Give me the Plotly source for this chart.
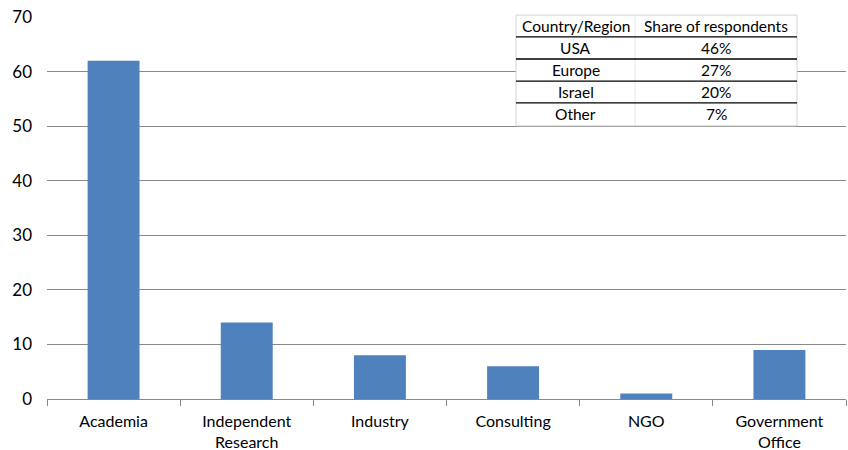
import plotly.graph_objects as go

categories = ["Academia", "Independent<br>Research", "Industry", "Consulting", "NGO", "Government<br>Office"]
counts = [62, 14, 8, 6, 1, 9]

table_header = ["Country/Region", "Share of respondents"]
regions = ["USA", "Europe", "Israel", "Other"]
shares = ["46%", "27%", "20%", "7%"]

FONT = "Lato"

fig = go.Figure()
fig.add_trace(go.Bar(x=categories, y=counts, marker=dict(color="#4F81BD", line=dict(width=0)),
                     width=0.39))

fig.update_layout(
    width=848, height=450,
    margin=dict(l=47, r=2, t=17, b=51),
    paper_bgcolor="white", plot_bgcolor="white",
    showlegend=False,
    font=dict(family=FONT, size=16, color="#000000"),
)
fig.update_xaxes(showline=True, linecolor="#888888", linewidth=1, automargin=False,
                 ticks="outside", tickson="boundaries", ticklen=6, tickcolor="#888888",
                 ticklabelstandoff=8,
                 showgrid=False, tickfont=dict(size=16, family=FONT))
fig.update_yaxes(range=[0, 70], dtick=10, showgrid=True, gridcolor="#888888", gridwidth=1,
                 zeroline=False, showline=False, ticks="", ticklabelstandoff=14, automargin=False,
                 tickfont=dict(size=17, family=FONT))

# table as shapes + annotations (paper coords)
x0, xm, x1 = 0.587, 0.736, 0.9387
row_edges = [1.005, 0.948, 0.890, 0.832, 0.775, 0.715]
fig.add_shape(type="rect", xref="paper", yref="paper", x0=x0, x1=x1, y0=row_edges[-1], y1=row_edges[0],
              fillcolor="white", line=dict(color="#d4d4d4", width=1), layer="above")
fig.add_shape(type="line", xref="paper", yref="paper", x0=xm, x1=xm, y0=row_edges[-1], y1=row_edges[0],
              line=dict(color="#e6e6e6", width=1), layer="above")
for ye in row_edges[1:-1]:
    fig.add_shape(type="line", xref="paper", yref="paper", x0=x0, x1=x1, y0=ye, y1=ye,
                  line=dict(color="#000000", width=1.3), layer="above")

rows = [table_header] + [[r, s] for r, s in zip(regions, shares)]
for i, row in enumerate(rows):
    yc = (row_edges[i] + row_edges[i + 1]) / 2
    for j, txt in enumerate(row):
        xc = (x0 + xm) / 2 if j == 0 else (xm + x1) / 2
        fig.add_annotation(x=xc, y=yc, xref="paper", yref="paper", text=txt, showarrow=False,
                           font=dict(family=FONT, size=15.5, color="#000000"),
                           xanchor="center", yanchor="middle")

fig.write_html("out.html", config={"displayModeBar": False},
               post_script="document.body.style.margin='0';")
